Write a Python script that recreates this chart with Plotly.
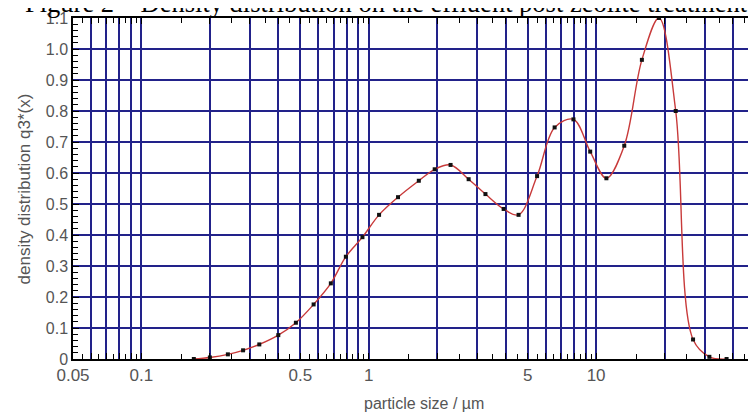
import plotly.graph_objects as go

# Data
sizes = [0.17, 0.2, 0.24, 0.28, 0.33, 0.40, 0.478, 0.572, 0.681, 0.793, 0.938, 1.11,
         1.345, 1.66, 1.95, 2.29, 2.75, 3.26, 3.92, 4.56, 5.50, 6.57, 7.95, 9.42,
         11.1, 13.3, 15.9, 18.9, 22.4, 26.7, 31.5, 37.5]
density = [0.0, 0.005, 0.015, 0.028, 0.047, 0.077, 0.117, 0.176, 0.244, 0.330, 0.393, 0.465,
           0.522, 0.575, 0.612, 0.626, 0.580, 0.532, 0.484, 0.465, 0.590, 0.747, 0.773, 0.669,
           0.583, 0.688, 0.965, 1.10, 0.80, 0.063, 0.007, 0.0]

x_grid = [0.05, 0.06, 0.07, 0.08, 0.09, 0.1, 0.2, 0.3, 0.4, 0.5, 0.6, 0.7, 0.8, 0.9,
          1, 2, 3, 4, 5, 6, 7, 8, 9, 10, 20, 30, 40, 50]
x_labels = {0.05: "0.05", 0.1: "0.1", 0.5: "0.5", 1: "1", 5: "5", 10: "10", 50: "50"}
x_minor = [0.055, 0.065, 0.075, 0.085, 0.095, 0.15, 0.25, 0.35, 0.45, 0.55, 0.65, 0.75,
           0.85, 0.95, 1.5, 2.5, 3.5, 4.5, 5.5, 6.5, 7.5, 8.5, 9.5, 15, 25, 35, 45]
y_ticks = [0, 0.1, 0.2, 0.3, 0.4, 0.5, 0.6, 0.7, 0.8, 0.9, 1.0, 1.1]
y_labels = ["0", "0.1", "0.2", "0.3", "0.4", "0.5", "0.6", "0.7", "0.8", "0.9", "1.0", "1.1"]

title_text = "Figure 2 \u2013 Density distribution on the effluent post zeolite treatment"
x_title = "particle size / \u00b5m"
y_title = "density distribution q3*(x)"

grid_color = "#22228a"
label_color = "#555555"

fig = go.Figure()
fig.add_trace(go.Scatter(
    x=sizes, y=density, mode="lines+markers",
    line=dict(color="#c83a3a", width=1.4, shape="spline", smoothing=1.0),
    marker=dict(symbol="square", size=4, color="#111111"),
    showlegend=False,
))

fig.update_layout(
    width=756, height=412,
    margin=dict(l=65, r=9, t=10, b=61),
    paper_bgcolor="white", plot_bgcolor="white",
    font=dict(family="Liberation Sans, Arial, sans-serif", color=label_color),
    xaxis=dict(
        type="log", range=[-1.30103, 1.69897], automargin=False,
        tickmode="array", tickvals=x_grid,
        ticktext=[x_labels.get(v, "") for v in x_grid],
        showgrid=True, gridcolor=grid_color, gridwidth=1.5,
        ticks="inside", ticklen=6, tickcolor="black",
        minor=dict(tickmode="array", tickvals=x_minor, ticks="inside", ticklen=5,
                   tickcolor="black", showgrid=False),
        showline=True, linecolor="black", linewidth=1.5, mirror="allticks",
        tickfont=dict(size=17, color=label_color),
        zeroline=False,
    ),
    yaxis=dict(
        range=[0, 1.1], automargin=False, tickmode="array", tickvals=y_ticks, ticktext=y_labels,
        showgrid=True, gridcolor=grid_color, gridwidth=1.5,
        ticks="inside", ticklen=6, tickcolor="black",
        minor=dict(dtick=0.02, ticks="inside", ticklen=5, tickcolor="black", showgrid=False),
        showline=True, linecolor="black", linewidth=1.5, mirror="allticks",
        tickfont=dict(size=16, color=label_color),
        zeroline=False,
    ),
    annotations=[
        dict(text=title_text, xref="paper", yref="paper", x=0.46, y=1.0,
             xanchor="center", yanchor="bottom", yshift=-2, showarrow=False,
             font=dict(family="Liberation Serif, Times New Roman, serif", size=26.5, color="black")),
        dict(text=x_title, xref="paper", yref="paper", x=0.515, y=0, yshift=-44,
             xanchor="center", yanchor="middle", showarrow=False,
             font=dict(size=16, color=label_color)),
        dict(text=y_title, xref="paper", yref="paper", x=-0.0704, y=0.5,
             xanchor="center", yanchor="middle", textangle=-90, showarrow=False,
             font=dict(size=17, color=label_color)),
    ],
)

fig.write_html("out.html")
